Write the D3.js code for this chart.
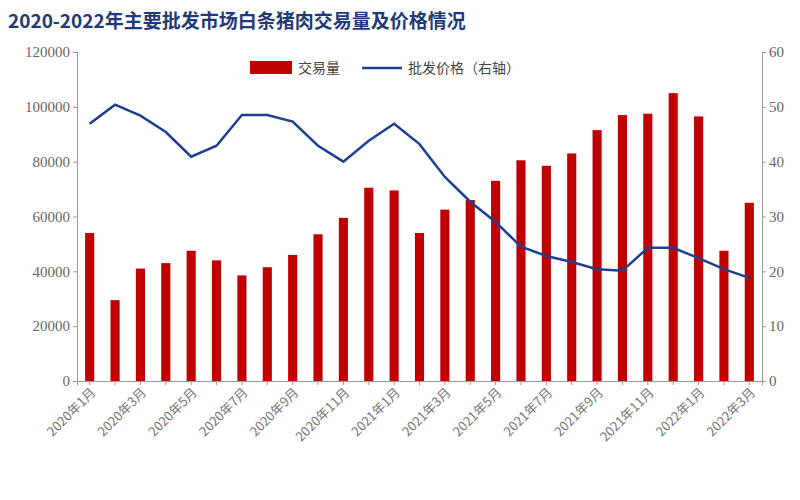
<!DOCTYPE html><html><head><meta charset="utf-8">
<script src="https://cdn.jsdelivr.net/npm/d3@7"></script>
<style>body{margin:0;background:#fff}</style></head><body>
<svg id="c" width="800" height="500"></svg>
<script>
const months=["2020年1月","2020年2月","2020年3月","2020年4月","2020年5月","2020年6月","2020年7月","2020年8月","2020年9月","2020年10月","2020年11月","2020年12月","2021年1月","2021年2月","2021年3月","2021年4月","2021年5月","2021年6月","2021年7月","2021年8月","2021年9月","2021年10月","2021年11月","2021年12月","2022年1月","2022年2月","2022年3月"];
const volume=[54000,29500,41000,43000,47500,44000,38500,41500,46000,53500,59500,70500,69500,54000,62500,66000,73000,80500,78500,83000,91500,97000,97500,105000,96500,47500,65000];
const price=[46.9,50.4,48.4,45.4,40.9,42.9,48.5,48.5,47.3,42.9,40.0,43.8,46.9,43.2,37.2,32.7,29.0,24.5,22.8,21.7,20.4,20.1,24.3,24.3,22.4,20.4,18.8];
const leftTicks=[0,20000,40000,60000,80000,100000,120000];
const rightTicks=[0,10,20,30,40,50,60];
const svg=d3.select("#c");
const L=77,R=762,T=52,B=381;
const x=d3.scaleBand().domain(months).range([L,R]).paddingInner(0.64).paddingOuter(0.32);
const yl=d3.scaleLinear().domain([0,120000]).range([B,T]);
const yr=d3.scaleLinear().domain([0,60]).range([B,T]);
const font="'Liberation Serif','DejaVu Serif',serif";
svg.append("text").attr("x",8).attr("y",28).text("2020-2022年主要批发市场白条猪肉交易量及价格情况")
 .attr("font-family","'Noto Sans CJK SC'").attr("font-weight","bold").attr("font-size",19).attr("fill","#1f3a78");
const gl=svg.append("g").attr("transform",`translate(${L},0)`).call(d3.axisLeft(yl).tickValues(leftTicks).tickSize(4).tickFormat(d3.format("d")));
const gr=svg.append("g").attr("transform",`translate(${R},0)`).call(d3.axisRight(yr).tickValues(rightTicks).tickSize(4));
[gl,gr].forEach(g=>{g.selectAll("path,line").attr("stroke","#999");g.selectAll("text").attr("font-family",font).attr("font-size",15).attr("fill","#666");});
const gx=svg.append("g").attr("transform",`translate(0,${B})`).call(d3.axisBottom(x).tickSize(4).tickFormat((d,i)=>i%2==0?d:""));
gx.selectAll("path,line").attr("stroke","#999");
gx.selectAll("text").attr("font-family","'Noto Sans CJK SC'").attr("font-size",13).attr("fill","#777")
 .attr("text-anchor","end").attr("transform","rotate(-45)").attr("dx","-0.3em").attr("dy","0.5em");
svg.append("g").selectAll("rect").data(volume).join("rect")
 .attr("x",(d,i)=>x(months[i])).attr("width",x.bandwidth()).attr("y",d=>yl(d)).attr("height",d=>B-yl(d)).attr("fill","#c00000");
const line=d3.line().x((d,i)=>x(months[i])+x.bandwidth()/2).y(d=>yr(d));
svg.append("path").datum(price).attr("d",line).attr("fill","none").attr("stroke","#1f3f8f").attr("stroke-width",2.5);
const lg=svg.append("g").attr("font-family","'Noto Sans CJK SC'").attr("font-size",14).attr("fill","#444");
lg.append("rect").attr("x",250).attr("y",61).attr("width",42).attr("height",13).attr("fill","#c00000");
lg.append("text").attr("x",298).attr("y",73).text("交易量");
lg.append("line").attr("x1",362).attr("x2",402).attr("y1",68).attr("y2",68).attr("stroke","#1f3f8f").attr("stroke-width",2.5);
lg.append("text").attr("x",408).attr("y",73).text("批发价格（右轴）");
</script></body></html>
